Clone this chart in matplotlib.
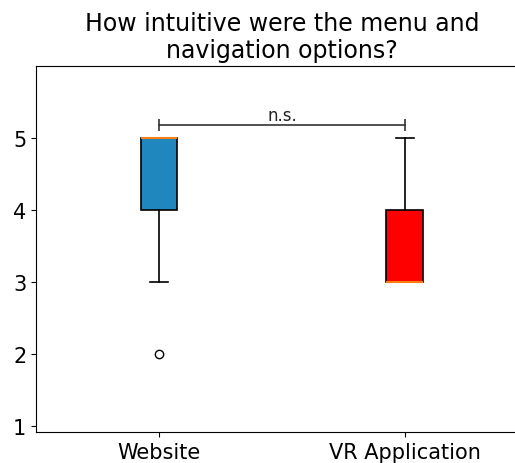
import matplotlib
matplotlib.use("Agg")
import matplotlib.pyplot as plt

# ratings (1-5 Likert)
groups = ["Website", "VR Application"]
website = [2, 3, 4, 4, 5, 5, 5, 5, 5]
vr_app = [3, 3, 3, 3, 4, 4, 5]
box_colors = ["#1f87bd", "red"]
sig_label = "n.s."
sig_y = 5.18

fig = plt.figure(figsize=(5.15, 4.64), dpi=100)
ax = fig.add_axes([0.07, 0.067, 0.955, 0.789])

bp = ax.boxplot([website, vr_app], positions=[1, 2], widths=0.15,
                patch_artist=True,
                boxprops=dict(linewidth=1.2),
                whiskerprops=dict(linewidth=1.2),
                capprops=dict(linewidth=1.2),
                medianprops=dict(color="#ff7f0e", linewidth=1.5))
for patch, c in zip(bp["boxes"], box_colors):
    patch.set_facecolor(c)

# significance bracket
ax.plot([1, 2], [sig_y, sig_y], color="#333", lw=1.2, marker="|", ms=8, mew=1.2)
ax.text(1.5, sig_y + 0.01, sig_label, ha="center", va="bottom", fontsize=12, color="#222")

ax.set_xlim(0.5, 2.5)
ax.set_ylim(0.92, 6.0)
ax.set_yticks([1, 2, 3, 4, 5])
ax.set_xticks([1, 2])
ax.set_xticklabels(groups)
ax.tick_params(labelsize=15)
ax.set_title("How intuitive were the menu and\nnavigation options?", fontsize=17)

plt.savefig("out.png", dpi=100)
